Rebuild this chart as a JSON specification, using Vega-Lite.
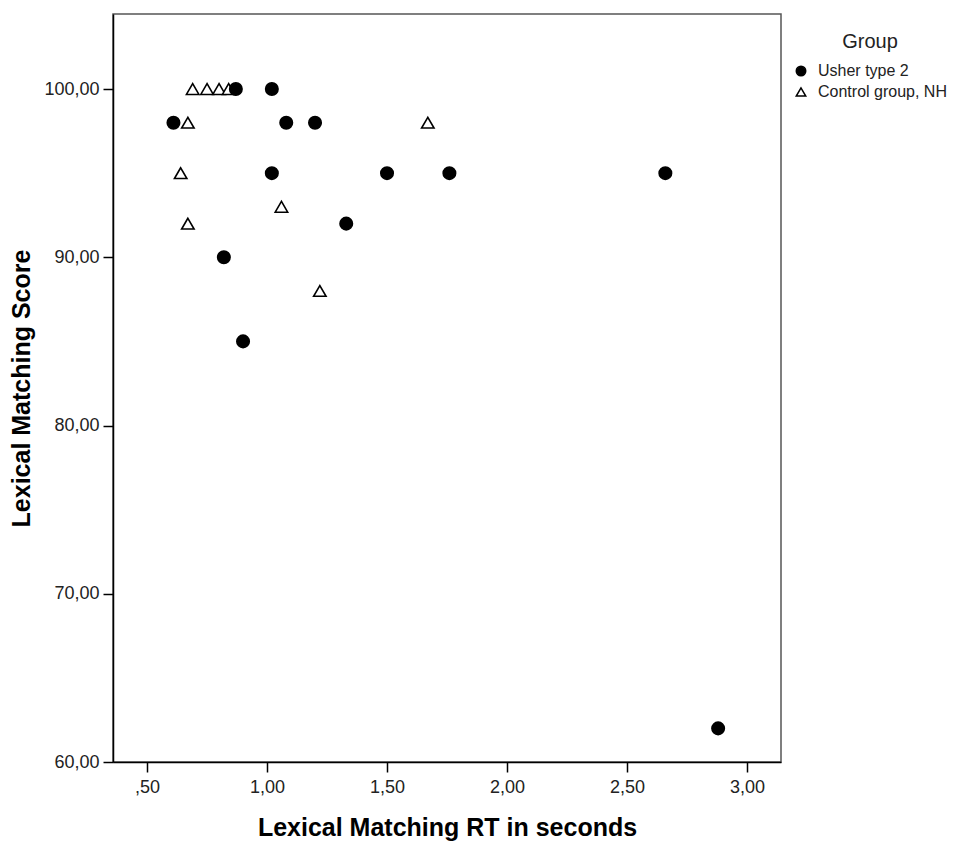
{
  "$schema": "https://vega.github.io/schema/vega-lite/v6.json",
  "description": "Lexical matching score against lexical matching RT, Usher type 2 versus normal-hearing controls.",
  "autosize": {"type": "none"},
  "padding": {"left": 113, "top": 14, "right": 189, "bottom": 85},
  "width": 668,
  "height": 748,
  "background": "white",
  "config": {
    "font": "Liberation Sans",
    "view": {"stroke": "#555555", "strokeWidth": 1.5}
  },
  "data": {
    "values": [
      {"group": "Control group, NH", "rt": 0.69, "score": 100},
      {"group": "Control group, NH", "rt": 0.75, "score": 100},
      {"group": "Control group, NH", "rt": 0.80, "score": 100},
      {"group": "Control group, NH", "rt": 0.84, "score": 100},
      {"group": "Control group, NH", "rt": 0.67, "score": 98},
      {"group": "Control group, NH", "rt": 1.67, "score": 98},
      {"group": "Control group, NH", "rt": 0.64, "score": 95},
      {"group": "Control group, NH", "rt": 1.06, "score": 93},
      {"group": "Control group, NH", "rt": 0.67, "score": 92},
      {"group": "Control group, NH", "rt": 1.22, "score": 88},
      {"group": "Usher type 2", "rt": 0.87, "score": 100},
      {"group": "Usher type 2", "rt": 1.02, "score": 100},
      {"group": "Usher type 2", "rt": 0.61, "score": 98},
      {"group": "Usher type 2", "rt": 1.08, "score": 98},
      {"group": "Usher type 2", "rt": 1.20, "score": 98},
      {"group": "Usher type 2", "rt": 1.02, "score": 95},
      {"group": "Usher type 2", "rt": 1.50, "score": 95},
      {"group": "Usher type 2", "rt": 1.76, "score": 95},
      {"group": "Usher type 2", "rt": 2.66, "score": 95},
      {"group": "Usher type 2", "rt": 1.33, "score": 92},
      {"group": "Usher type 2", "rt": 0.82, "score": 90},
      {"group": "Usher type 2", "rt": 0.90, "score": 85},
      {"group": "Usher type 2", "rt": 2.88, "score": 62}
    ]
  },
  "mark": {"type": "point", "filled": true, "stroke": "black", "strokeWidth": 1.6, "opacity": 1, "size": 155},
  "encoding": {
    "x": {
      "field": "rt",
      "type": "quantitative",
      "scale": {"domain": [0.358, 3.142], "nice": false, "zero": false},
      "axis": {
        "title": "Lexical Matching RT in seconds",
        "values": [0.5, 1, 1.5, 2, 2.5, 3],
        "labelExpr": "datum.value < 1 ? replace(format(datum.value, '.2f'), '0.', ',') : replace(format(datum.value, '.2f'), '.', ',')",
        "grid": false,
        "domainColor": "black",
        "domainWidth": 1.5,
        "tickColor": "black",
        "tickWidth": 1.5,
        "tickSize": 10,
        "labelFontSize": 18,
        "labelColor": "#222222",
        "labelPadding": 6,
        "titleFontSize": 25,
        "titleFontWeight": "bold",
        "titleColor": "black",
        "titleBaseline": "top",
        "titleY": 53
      }
    },
    "y": {
      "field": "score",
      "type": "quantitative",
      "scale": {"domain": [60, 104.46], "nice": false, "zero": false},
      "axis": {
        "title": "Lexical Matching Score",
        "values": [60, 70, 80, 90, 100],
        "labelExpr": "replace(format(datum.value, '.2f'), '.', ',')",
        "grid": false,
        "domainColor": "black",
        "domainWidth": 1.5,
        "tickColor": "black",
        "tickWidth": 1.5,
        "tickSize": 10,
        "labelFontSize": 18,
        "labelColor": "#222222",
        "labelPadding": 4,
        "titleFontSize": 25,
        "titleFontWeight": "bold",
        "titleColor": "black",
        "titleBaseline": "alphabetic",
        "titleX": -84
      }
    },
    "shape": {
      "field": "group",
      "type": "nominal",
      "scale": {"domain": ["Usher type 2", "Control group, NH"], "range": ["circle", "triangle-up"]},
      "legend": {
        "title": "Group",
        "orient": "none",
        "legendX": 680,
        "legendY": 18,
        "padding": 0,
        "titleFontSize": 20,
        "titleFontWeight": "normal",
        "titleColor": "#222222",
        "titleAnchor": "middle",
        "titlePadding": 11,
        "labelFontSize": 16,
        "labelColor": "#222222",
        "labelOffset": 9,
        "rowPadding": 5,
        "symbolStrokeWidth": 1.5,
        "symbolSize": 90
      }
    },
    "fill": {
      "field": "group",
      "type": "nominal",
      "scale": {"domain": ["Usher type 2", "Control group, NH"], "range": ["black", "white"]},
      "legend": {
        "title": "Group",
        "orient": "none",
        "legendX": 680,
        "legendY": 18,
        "padding": 0,
        "titleFontSize": 20,
        "titleFontWeight": "normal",
        "titleColor": "#222222",
        "titleAnchor": "middle",
        "titlePadding": 11,
        "labelFontSize": 16,
        "labelColor": "#222222",
        "labelOffset": 9,
        "rowPadding": 5,
        "symbolStrokeWidth": 1.5,
        "symbolSize": 90
      }
    }
  }
}
